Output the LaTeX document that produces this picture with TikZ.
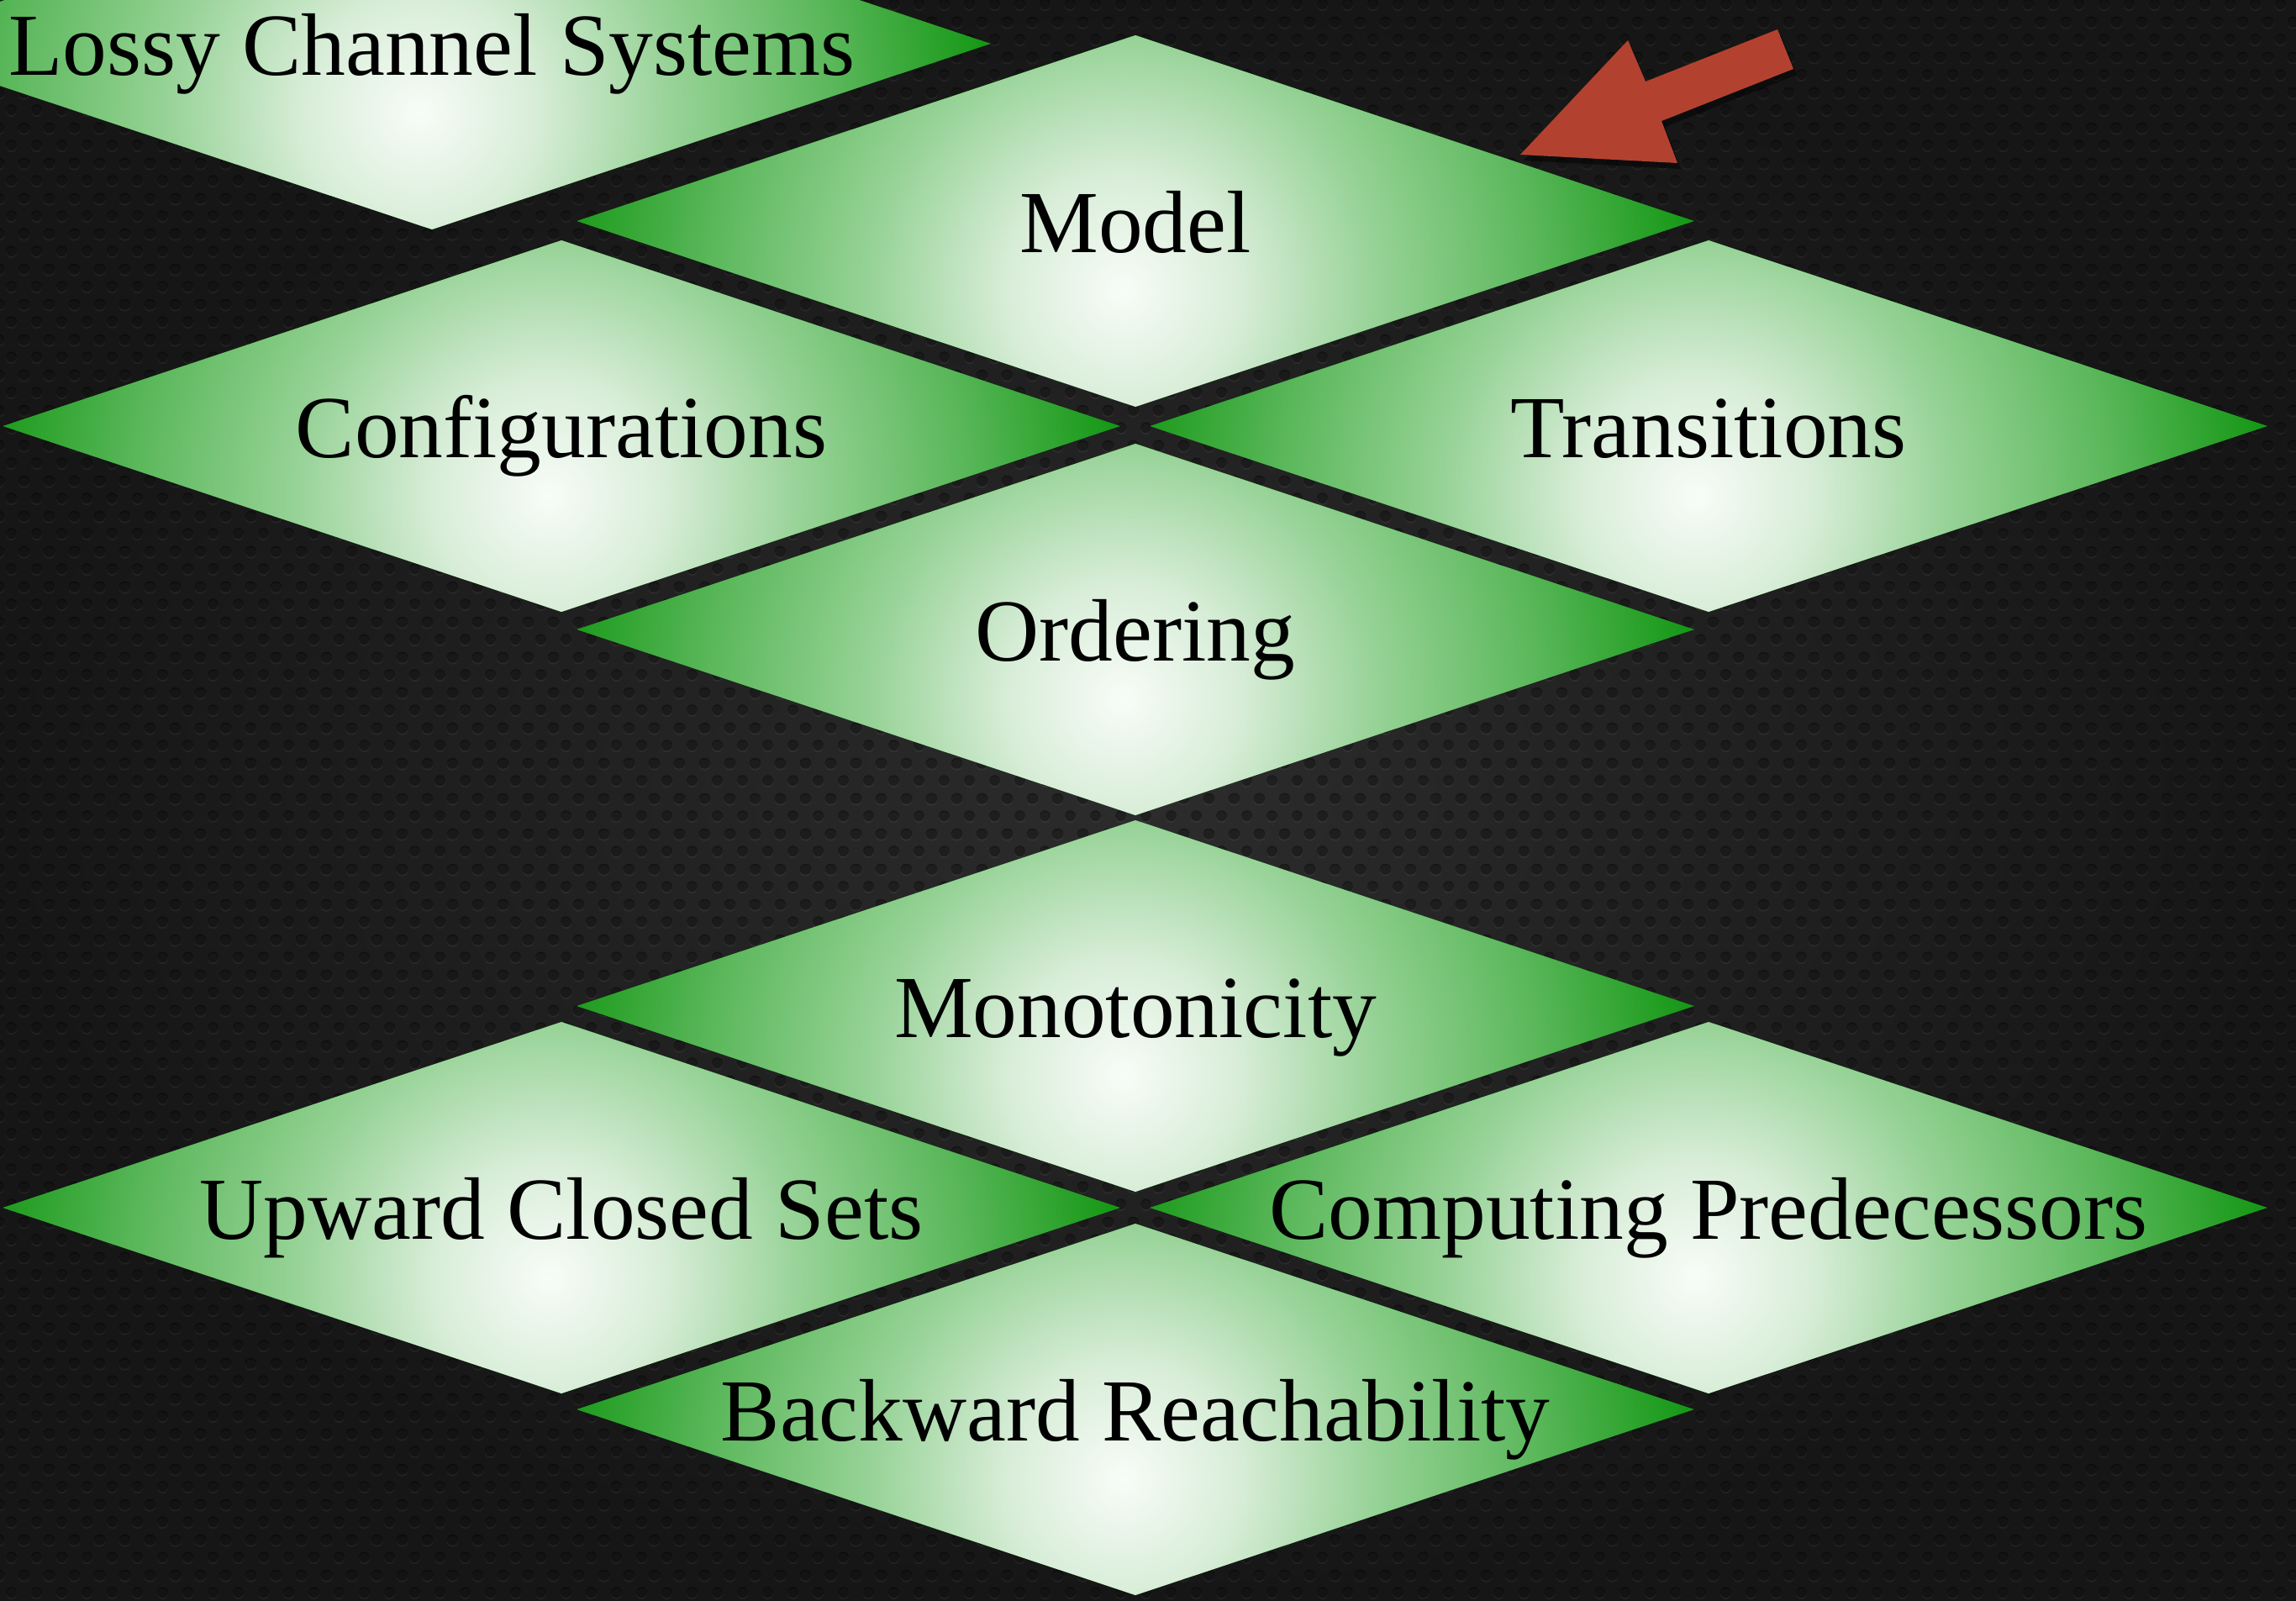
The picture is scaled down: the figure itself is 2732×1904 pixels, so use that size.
\documentclass[tikz,border=0pt]{standalone}
\usepackage{fontspec}
\setmainfont{Liberation Serif}
\usetikzlibrary{shapes.geometric,patterns}

% palette
\definecolor{lcsgreen}{RGB}{22,152,22}
\definecolor{lcsglowA}{RGB}{248,252,248}
\definecolor{lcsglowB}{RGB}{216,237,216}
\definecolor{lcsglowC}{RGB}{150,210,150}
\definecolor{lcsglowD}{RGB}{92,184,92}
\definecolor{lcsred}{RGB}{178,66,47}
\definecolor{bgmid}{RGB}{44,44,44}
\definecolor{bgedge}{RGB}{22,22,22}

% soft light spot used inside every diamond (25bp = radius of the shaded circle)
\pgfdeclareradialshading{lcsglow}{\pgfpointorigin}{%
  color(0bp)=(lcsglowA); color(5bp)=(lcsglowB); color(11bp)=(lcsglowC);
  color(17.7bp)=(lcsglowD); color(24.5bp)=(lcsgreen); color(50bp)=(lcsgreen)}

% staggered perforation: one tile = two rows of holes
\pgfdeclarepatternformonly{lcsholes}{\pgfpointorigin}{\pgfpoint{3mm}{4.2mm}}{\pgfpoint{3mm}{4.2mm}}{%
  \pgfpathcircle{\pgfpoint{1.5mm}{1.05mm}}{0.66mm}%
  \pgfpathcircle{\pgfpoint{0mm}{3.15mm}}{0.66mm}%
  \pgfpathcircle{\pgfpoint{3mm}{3.15mm}}{0.66mm}%
  \pgfusepath{fill}}
\pgfdeclarepatternformonly{lcsrims}{\pgfpointorigin}{\pgfpoint{3mm}{4.2mm}}{\pgfpoint{3mm}{4.2mm}}{%
  \pgfpathcircle{\pgfpoint{1.5mm}{0.85mm}}{0.66mm}%
  \pgfpathcircle{\pgfpoint{0mm}{2.95mm}}{0.66mm}%
  \pgfpathcircle{\pgfpoint{3mm}{2.95mm}}{0.66mm}%
  \pgfusepath{fill}}

\newcommand\lcsfont{\fontsize{30pt}{36pt}\selectfont}
\newcommand\lbl[1]{\makebox[0pt]{#1}}

\tikzset{
  lcsbox/.style={shape=diamond, minimum width=132.9mm, minimum height=44.2mm,
    inner sep=0pt, outer sep=0pt, text height=24pt, text depth=2.4pt,
    font=\lcsfont, text=black,
    path picture={
      \fill[lcsgreen] (path picture bounding box.south west) rectangle (path picture bounding box.north east);
      \shade[shading=lcsglow] ([shift={(-15,83)}]path picture bounding box.center) circle[radius=69mm];
    }}
}

\begin{document}
\begin{tikzpicture}[x=0.1mm, y=-0.1mm]
  \clip (0,0) rectangle (2732,1904);

  % perforated dark backdrop
  \shade[inner color=bgmid, outer color=bgedge] (0,0) rectangle (2732,1904);
  \fill[pattern=lcsrims, pattern color=white, fill opacity=0.05] (0,0) rectangle (2732,1904);
  \fill[pattern=lcsholes, pattern color=black, fill opacity=0.4] (0,0) rectangle (2732,1904);

  % topic diamonds
  \node[lcsbox] (lcs)    at (514,52)    {\lbl{Lossy Channel Systems}};
  \node[lcsbox] (model)  at (1351,263)  {\lbl{Model}};
  \node[lcsbox] (config) at (668,507)   {\lbl{Configurations}};
  \node[lcsbox] (trans)  at (2033,507)  {\lbl{Transitions}};
  \node[lcsbox] (order)  at (1351,749)  {\lbl{Ordering}};
  \node[lcsbox] (mono)   at (1351,1197) {\lbl{Monotonicity}};
  \node[lcsbox] (upward) at (668,1437)  {\lbl{Upward Closed Sets}};
  \node[lcsbox] (pred)   at (2033,1437) {\lbl{Computing Predecessors}};
  \node[lcsbox] (back)   at (1351,1677) {\lbl{Backward Reachability}};

  % pointer arrow with its shadow
  \begin{scope}[shift={(4,7)}]
    \fill[black, opacity=0.45] (1809,184) -- (1937,48) -- (1958,97) -- (2115,35)
      -- (2134,82) -- (1977,144) -- (1996,194) -- cycle;
  \end{scope}
  \fill[lcsred] (1809,184) -- (1937,48) -- (1958,97) -- (2115,35)
    -- (2134,82) -- (1977,144) -- (1996,194) -- cycle;
\end{tikzpicture}
\end{document}
